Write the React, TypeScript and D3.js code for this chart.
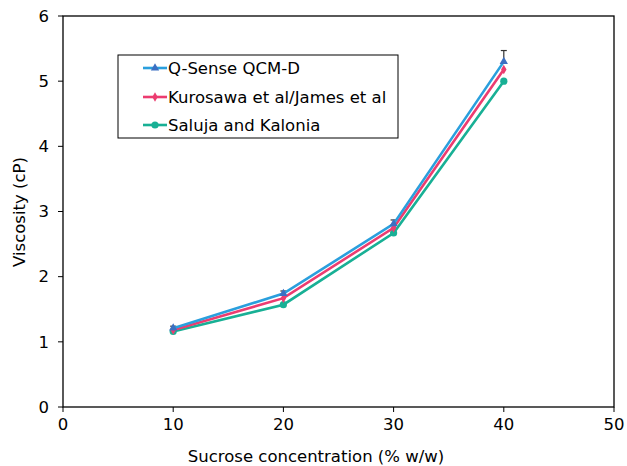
import React from "react";
import * as d3 from "d3";

const concentrations = [10, 20, 30, 40];
const qsense = [1.21, 1.74, 2.81, 5.3];
const qsenseErr = [0.03, 0.04, 0.06, 0.17];
const kurosawa = [1.18, 1.67, 2.75, 5.18];
const saluja = [1.16, 1.57, 2.67, 5.0];
const xTicks = [0, 10, 20, 30, 40, 50];
const yTicks = [0, 1, 2, 3, 4, 5, 6];
const seriesNames = ["Q-Sense QCM-D", "Kurosawa et al/James et al", "Saluja and Kalonia"];

const W = 627;
const H = 466;
const M = { left: 63, right: 614, top: 16, bottom: 407 };
const FONT = "'DejaVu Sans', Verdana, sans-serif";
const FS = 16.5;

export default function App() {
  const x = d3.scaleLinear().domain([0, 50]).range([M.left, M.right]);
  const y = d3.scaleLinear().domain([0, 6]).range([M.bottom, M.top]);
  const line = d3
    .line<number>()
    .x((_, i) => x(concentrations[i]))
    .y((d) => y(d));

  const series = [
    { name: seriesNames[0], values: qsense, color: "#2a9fdd", marker: "#3b6fc2", shape: "tri" },
    { name: seriesNames[1], values: kurosawa, color: "#ec3c70", marker: "#ec3c70", shape: "diamond" },
    { name: seriesNames[2], values: saluja, color: "#18b095", marker: "#18b095", shape: "circle" },
  ];

  const marker = (shape: string, cx: number, cy: number, color: string, key: string) => {
    if (shape === "tri") {
      const s = d3.symbol(d3.symbolTriangle, 30)();
      return <path key={key} d={s || ""} transform={`translate(${cx},${cy})`} fill={color} />;
    }
    if (shape === "diamond") {
      const s = d3.symbol(d3.symbolDiamond, 26)();
      return <path key={key} d={s || ""} transform={`translate(${cx},${cy})`} fill={color} />;
    }
    return <circle key={key} cx={cx} cy={cy} r={3.6} fill={color} />;
  };

  const legendX = 118;
  const legendY = 55;
  const rows = [68, 97, 125];

  return (
    <svg width={W} height={H} style={{ position: "absolute", left: 0, top: 0, background: "#fff" }} fontFamily={FONT}>
      <rect x={0} y={0} width={W} height={H} fill="#fff" />
      <rect x={M.left} y={M.top} width={M.right - M.left} height={M.bottom - M.top} fill="none" stroke="#000" strokeWidth={1.3} />
      {yTicks.map((t) => (
        <g key={"y" + t}>
          <line x1={M.left - 5} x2={M.left} y1={y(t)} y2={y(t)} stroke="#000" strokeWidth={1} />
          <text x={M.left - 14} y={y(t)} dy="0.35em" textAnchor="end" fontSize={FS} fill="#000">
            {t}
          </text>
        </g>
      ))}
      {xTicks.map((t) => (
        <g key={"x" + t}>
          <line x1={x(t)} x2={x(t)} y1={M.bottom} y2={M.bottom + 5} stroke="#000" strokeWidth={1} />
          <text x={x(t)} y={M.bottom + 23} textAnchor="middle" fontSize={FS} fill="#000">
            {t}
          </text>
        </g>
      ))}
      <text x={316} y={462} textAnchor="middle" fontSize={FS} fill="#000">
        Sucrose concentration (% w/w)
      </text>
      <text transform={`translate(25,212) rotate(-90)`} textAnchor="middle" fontSize={FS} fill="#000">
        Viscosity (cP)
      </text>
      {qsense.map((v, i) => (
        <g key={"e" + i} stroke="#333" strokeWidth={1.2}>
          <line x1={x(concentrations[i])} x2={x(concentrations[i])} y1={y(v)} y2={y(v + qsenseErr[i])} />
          <line x1={x(concentrations[i]) - 3} x2={x(concentrations[i]) + 3} y1={y(v + qsenseErr[i])} y2={y(v + qsenseErr[i])} />
        </g>
      ))}
      {series
        .slice()
        .reverse()
        .map((s) => (
          <g key={s.name}>
            <path d={line(s.values) || ""} fill="none" stroke={s.color} strokeWidth={2.6} />
            {s.values.map((v, i) => marker(s.shape, x(concentrations[i]), y(v), s.marker, s.name + i))}
          </g>
        ))}
      <rect x={legendX} y={legendY} width={280} height={83} fill="#fff" stroke="#000" strokeWidth={1} />
      {series.map((s, i) => (
        <g key={"l" + i}>
          <line x1={143} x2={167} y1={rows[i]} y2={rows[i]} stroke={s.color} strokeWidth={2.6} />
          {marker(s.shape, 155, rows[i], s.marker, "lm" + i)}
          <text x={168} y={rows[i]} dy="0.35em" fontSize={FS} fill="#000">
            {s.name}
          </text>
        </g>
      ))}
    </svg>
  );
}
